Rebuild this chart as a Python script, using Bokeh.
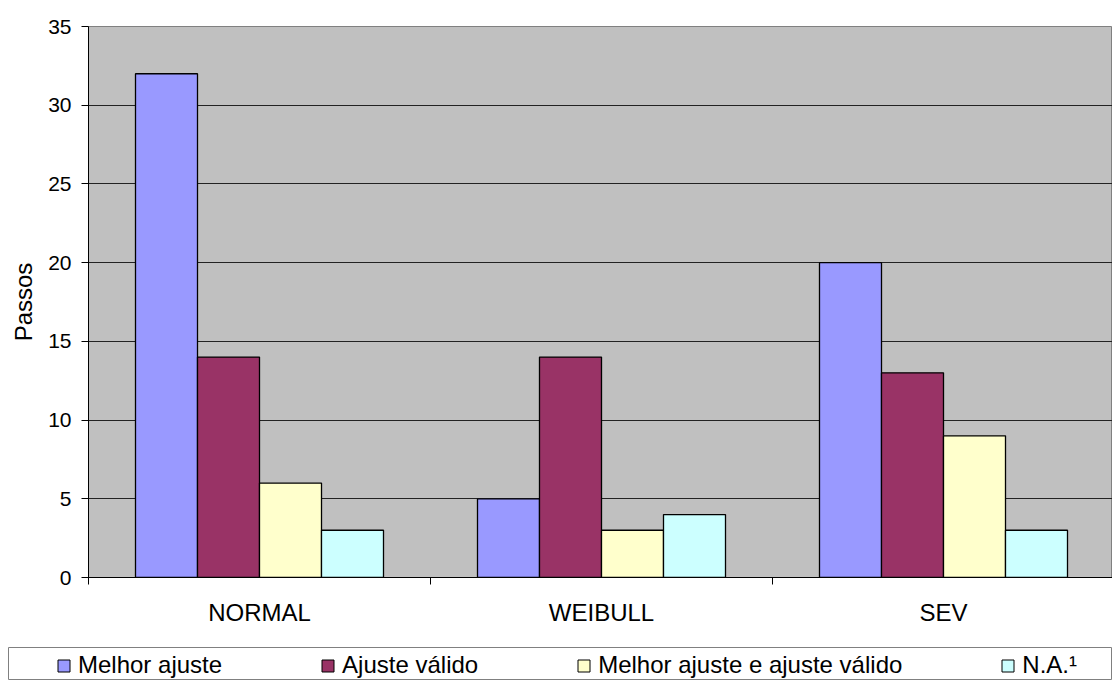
from bokeh.plotting import figure
from bokeh.models import ColumnDataSource, Range1d, FixedTicker, Legend, LegendItem
from bokeh.transform import dodge
from bokeh.embed import file_html
from bokeh.resources import INLINE

# ---- data ----
categories = ["NORMAL", "WEIBULL", "SEV"]
series_names = ["Melhor ajuste", "Ajuste válido", "Melhor ajuste e ajuste válido", "N.A.¹"]
melhor_ajuste = [32, 5, 20]
ajuste_valido = [14, 14, 13]
melhor_e_valido = [6, 3, 9]
na = [3, 4, 3]
y_ticks = [0, 5, 10, 15, 20, 25, 30, 35]

series_values = [melhor_ajuste, ajuste_valido, melhor_e_valido, na]
colors = ["#9999FF", "#993366", "#FFFFCC", "#CCFFFF"]
FONT = "Liberation Sans"

centers = [i + 0.5 for i in range(len(categories))]
data = {"x": centers}
for k, vals in enumerate(series_values):
    data["s%d" % k] = vals
source = ColumnDataSource(data)

bar_w = 62 / 342

p = figure(width=1112, height=647, output_backend="svg", toolbar_location=None,
           x_range=Range1d(0, 1024 / 342), y_range=Range1d(0, 35),
           min_border_left=88, min_border_right=0, min_border_top=26, min_border_bottom=70)
p.background_fill_color = "#C0C0C0"
p.border_fill_color = "white"
p.outline_line_color = "#808080"

for k in range(len(series_values)):
    p.vbar(x=dodge("x", (k - 1.5) * bar_w, range=p.x_range), top="s%d" % k, bottom=0,
           width=bar_w, source=source, fill_color=colors[k],
           line_color="black", line_width=1.3)

# y axis
p.yaxis.ticker = FixedTicker(ticks=y_ticks)
p.yaxis.major_tick_out = 7
p.yaxis.major_tick_in = 0
p.yaxis.minor_tick_line_color = None
p.yaxis.axis_line_color = "black"
p.yaxis.major_tick_line_color = "black"
p.yaxis.major_label_text_font = FONT
p.yaxis.major_label_text_font_size = "21px"
p.yaxis.major_label_text_color = "black"
p.yaxis.major_label_standoff = 10
p.yaxis.axis_label = "Passos"
p.yaxis.axis_label_text_font = FONT
p.yaxis.axis_label_text_font_size = "24px"
p.yaxis.axis_label_text_font_style = "normal"
p.yaxis.axis_label_text_color = "black"
p.yaxis.axis_label_standoff = 8

# x axis
p.xaxis.ticker = FixedTicker(ticks=centers, minor_ticks=list(range(len(categories) + 1)))
p.xaxis.major_label_overrides = {c: name for c, name in zip(centers, categories)}
p.xaxis.major_tick_line_color = None
p.xaxis.major_tick_out = 7
p.xaxis.major_tick_in = 0
p.xaxis.minor_tick_out = 7
p.xaxis.minor_tick_in = 0
p.xaxis.minor_tick_line_color = "black"
p.xaxis.axis_line_color = "black"
p.xaxis.major_label_text_font = FONT
p.xaxis.major_label_text_font_size = "24px"
p.xaxis.major_label_text_color = "black"
p.xaxis.major_label_standoff = 14

p.xgrid.visible = False
p.ygrid.grid_line_color = "#222222"
p.ygrid.grid_line_width = 1

# ---- legend strip (separate root, so its box starts near the page's left) ----
lf = figure(width=1112, height=33, output_backend="svg", toolbar_location=None,
            x_range=Range1d(0, 1), y_range=Range1d(100, 101),
            x_axis_type=None, y_axis_type=None, min_border=0, min_border_left=8)
lf.grid.visible = False
lf.outline_line_color = "#808080"
lf.background_fill_color = "white"
lf.border_fill_color = "white"

items = []
for k, name in enumerate(series_names):
    r = lf.vbar(x="x", top="s%d" % k, bottom=0, width=bar_w, source=source,
                fill_color=colors[k], line_color="black", line_width=1)
    items.append(LegendItem(label=name, renderers=[r]))

leg = Legend(items=items, location=(48, 1), orientation="horizontal", spacing=98,
             border_line_color=None, background_fill_alpha=0,
             padding=0, margin=0, glyph_width=15, glyph_height=15, label_standoff=7,
             label_text_font=FONT, label_text_font_size="24px", label_text_color="black")
lf.add_layout(leg)

open("out.html", "w").write(file_html([p, lf], INLINE))
